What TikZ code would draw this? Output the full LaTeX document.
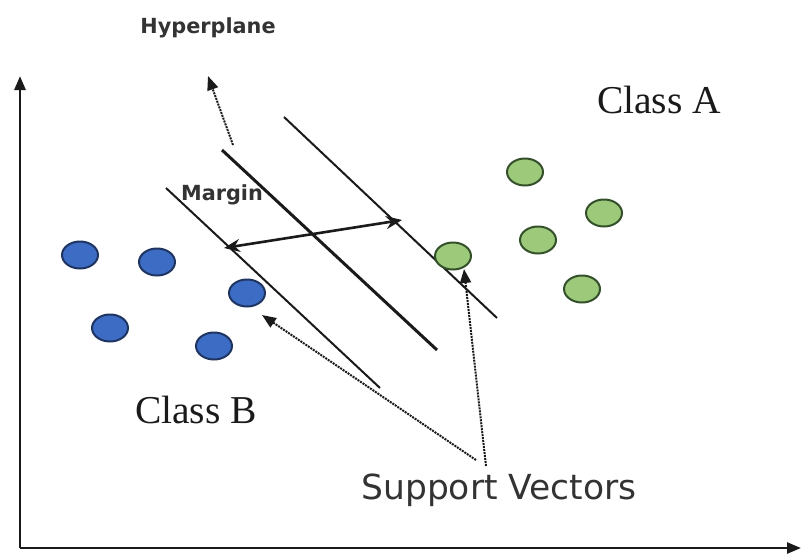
\documentclass[tikz,border=0pt]{standalone}
\usepackage{fontspec}
\setmainfont{Liberation Serif}
\newfontfamily\dvs{DejaVu Sans}
\usetikzlibrary{arrows.meta,shapes.geometric}
\definecolor{bluept}{HTML}{3D6CC4}
\definecolor{blueedge}{HTML}{1E3461}
\definecolor{greenpt}{HTML}{9CC97A}
\definecolor{greenedge}{HTML}{34502A}
\definecolor{inkc}{HTML}{1A1A1A}
\begin{document}
\begin{tikzpicture}[x=1pt,y=-1pt,
  bpt/.style={ellipse,draw=blueedge,fill=bluept,line width=2pt,minimum width=36pt,minimum height=27pt,inner sep=0pt},
  gpt/.style={ellipse,draw=greenedge,fill=greenpt,line width=2pt,minimum width=36pt,minimum height=27pt,inner sep=0pt},
  axisline/.style={draw=inkc,line width=2.6pt,-{Triangle[length=14pt,width=11pt]}},
  hyper/.style={draw=inkc,line width=3pt},
  marginline/.style={draw=inkc,line width=2pt},
  marginarrow/.style={draw=inkc,line width=2.6pt,{Stealth[length=16pt,width=13pt]}-{Stealth[length=16pt,width=13pt]}},
  pointer/.style={draw=inkc,line width=2pt,densely dotted,-{Triangle[length=14pt,width=11pt]}},
  classlabel/.style={font=\fontsize{39.5}{42}\selectfont,text=inkc,inner sep=0pt},
  boldlabel/.style={font=\dvs\bfseries\fontsize{20.8}{23}\selectfont,text=black!80,inner sep=0pt},
  svlabel/.style={font=\dvs\fontsize{34.5}{38}\selectfont,text=black!80,inner sep=0pt}]
\useasboundingbox (0,0) rectangle (802,554);
% axes
\coordinate (origin) at (20,548);
\coordinate (ytop) at (20,76);
\coordinate (xend) at (801,548);
\draw[axisline] (origin) -- (ytop);
\draw[axisline] (origin) -- (xend);
% separating lines
\coordinate (h1) at (222,150);
\coordinate (h2) at (437,350);
\coordinate (ra) at (284,117);
\coordinate (rb) at (497,318);
\coordinate (la) at (166,188);
\coordinate (lb) at (380,388);
\draw[hyper] (h1) -- (h2);
\draw[marginline] (ra) -- (rb);
\draw[marginline] (la) -- (lb);
% margin arrow
\coordinate (m1) at (224,248);
\coordinate (m2) at (402,220);
\draw[marginarrow] (m1) -- (m2);
% labels
\node[boldlabel] (hyp) at (208,28) {Hyperplane};
\node[boldlabel] (mar) at (222,195) {Margin};
\node[classlabel] (ca) at (659,100) {Class A};
\node[classlabel] (cb) at (196,410) {Class B};
\node[svlabel] (sv) at (499,490) {Support Vectors};
% hyperplane pointer
\coordinate (hp0) at (233,145);
\coordinate (hp1) at (208,76);
\draw[pointer] (hp0) -- (hp1);
% class B points
\node[bpt] (b1) at (80,255) {};
\node[bpt] (b2) at (157,262) {};
\node[bpt] (b3) at (247,293) {};
\node[bpt] (b4) at (110,328) {};
\node[bpt] (b5) at (214,346) {};
% class A points
\node[gpt] (g1) at (525,172) {};
\node[gpt] (g2) at (604,213) {};
\node[gpt] (g3) at (538,240) {};
\node[gpt] (g4) at (453,256) {};
\node[gpt] (g5) at (582,289) {};
% support vector pointers
\coordinate (sv1) at (486,466);
\coordinate (sv2) at (476,460);
\coordinate (t1) at (464,269);
\coordinate (t2) at (262,315);
\draw[pointer] (sv1) -- (t1);
\draw[pointer] (sv2) -- (t2);
\end{tikzpicture}
\end{document}
